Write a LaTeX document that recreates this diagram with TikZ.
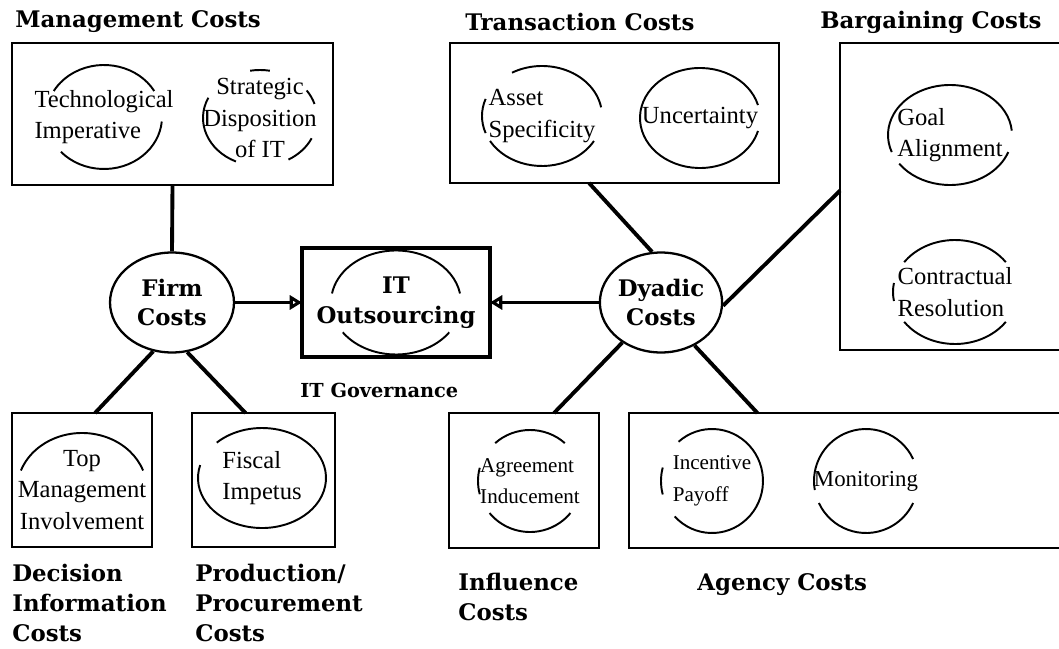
\documentclass[tikz,border=0pt]{standalone}
\usepackage{fontspec}
\setmainfont{Liberation Serif}
\newfontfamily\headfont{DejaVu Serif}
\usepackage{tikz}
\usetikzlibrary{shapes.geometric,arrows.meta,positioning}

\newcommand\gaparcs[4]{%
  \foreach \s/\e in {#4}
    \draw[ring] (#1.center) ++(\s:#2 and #3) arc[start angle=\s, end angle=\e, x radius=#2, y radius=#3];%
}

\begin{document}
\begin{tikzpicture}[x=0.02cm, y=0.02cm,
    box/.style={draw, line width=1.6pt, inner sep=0pt, outer sep=0pt},
    ring/.style={line width=1.1pt},
    hub/.style={draw, ellipse, line width=1.3pt, inner sep=0pt, align=center,
      font=\headfont\bfseries\fontsize{13}{17}\selectfont},
    item/.style={ellipse, inner sep=0pt, align=center, font=\fontsize{14}{18}\selectfont},
    small/.style={font=\fontsize{12}{18}\selectfont},
    title/.style={anchor=west, inner sep=0pt, align=left,
      font=\headfont\bfseries\fontsize{13}{17}\selectfont},
    link/.style={line width=2.2pt},
    arr/.style={line width=2.2pt, -{Triangle[open, length=7pt, width=8pt]}}]
  \useasboundingbox (0,0) rectangle (1059,-649);

  \node[box, minimum width=6.42cm, minimum height=2.84cm] (mgmt) at (172.5,-114) {};
  \node[box, minimum width=6.58cm, minimum height=2.8cm] (trans) at (614.5,-113) {};
  \node[box, minimum width=4.5cm, minimum height=6.14cm] (barg) at (952.5,-196.5) {};
  \node[box, line width=2pt, minimum width=3.76cm, minimum height=2.18cm, align=center,
    font=\headfont\bfseries\fontsize{13}{17}\selectfont] (outs) at (396,-302.5) {IT\\Outsourcing};
  \node[box, minimum width=2.8cm, minimum height=2.68cm] (dec) at (82,-480) {};
  \node[box, minimum width=2.86cm, minimum height=2.68cm] (prod) at (263.5,-480) {};
  \node[box, minimum width=3cm, minimum height=2.7cm] (infl) at (524,-480.5) {};
  \node[box, minimum width=8.72cm, minimum height=2.7cm] (agency) at (847,-480.5) {};

  \node[hub, minimum width=2.48cm, minimum height=2cm] (firm) at (172,-302.5) {Firm\\Costs};
  \node[hub, minimum width=2.44cm, minimum height=2cm] (dyadic) at (661,-302.5) {Dyadic\\Costs};

  \node[item, align=left] (tech) at (104,-117) {Technological\\Imperative};
  \node[item] (strat) at (260,-118) {Strategic\\Disposition\\of IT};
  \node[item, align=left] (asset) at (542,-116) {Asset\\Specificity};
  \node[item] (uncert) at (700,-118) {Uncertainty};
  \node[item, align=left] (goal) at (950,-135) {Goal\\Alignment};
  \node[item, align=left] (contr) at (955,-292) {Contractual\\Resolution};
  \node[item] (topm) at (82,-490) {Top\\Management\\Involvement};
  \node[item, align=left] (fiscal) at (262,-478) {Fiscal\\Impetus};
  \node[item, small, align=left] (agree) at (530,-481) {Agreement\\Inducement};
  \node[item, small, align=left] (incent) at (712,-481) {Incentive\\Payoff};
  \node[item, font=\fontsize{13}{18}\selectfont] (monit) at (866,-481) {Monitoring};

  \gaparcs{tech}{58}{52}{30/150, 222/355}
  \gaparcs{strat}{57}{48}{17/35, 80/100, 155/245, 300/335}
  \gaparcs{asset}{60}{50}{10/120, 160/200, 210/330}
  \gaparcs{uncert}{60}{50}{15/345}
  \gaparcs{goal}{62}{50}{5/200, 215/340}
  \gaparcs{contr}{62}{52}{35/145, 170/190, 215/325}
  \gaparcs{outs}{65}{52}{10/170, 215/325}
  \gaparcs{topm}{65}{57}{20/160}
  \gaparcs{fiscal}{64}{50}{165/495}
  \gaparcs{agree}{52}{51}{48/132, 165/195, 219/321}
  \gaparcs{incent}{51}{52}{-137/131, 165/195}
  \gaparcs{monit}{52}{52}{25/190, 205/335}

  \node[title] (mgmtlbl) at (15,-22) {Management Costs};
  \node[title] (translbl) at (465,-22) {Transaction Costs};
  \node[title] (barglbl) at (820,-22) {Bargaining Costs};
  \node[title, font=\headfont\bfseries\fontsize{11}{14}\selectfont] (govlbl) at (300,-390) {IT Governance};
  \node[title] (declbl) at (12,-603) {Decision\\Information\\Costs};
  \node[title] (prodlbl) at (195,-603) {Production/\\Procurement\\Costs};
  \node[title] (infllbl) at (458,-597) {Influence\\Costs};
  \node[title] (agencylbl) at (697,-585) {Agency Costs};

  \draw[link] (mgmt.south) -- (firm.north);
  \draw[link] (trans.250) -- (dyadic.100);
  \draw[link] (dyadic.357) -- (barg.177);
  \draw[link] (dyadic.226) -- (infl.66);
  \draw[link] (dyadic.308) -- (agency.143);
  \draw[link] (firm.249) -- (dec.79);
  \draw[link] (firm.287) -- (prod.105);
  \draw[arr] (firm.east) -- (outs.west);
  \draw[arr] (dyadic.west) -- (outs.east);
\end{tikzpicture}
\end{document}
